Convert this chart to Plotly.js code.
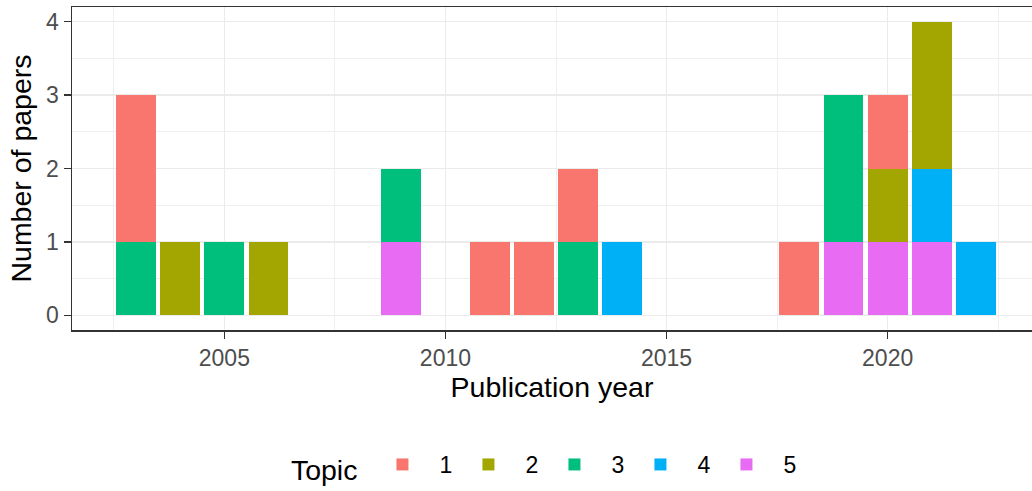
<!DOCTYPE html>
<html>
<head>
<meta charset="utf-8">
<script src="https://cdn.plot.ly/plotly-3.0.1.min.js"></script>
<style>html,body{margin:0;padding:0;background:#fff;}#chart{width:1032px;height:491px;}</style>
</head>
<body>
<div id="chart"></div>
<script>
// Data
var years  = [2003, 2004, 2005, 2006, 2009, 2011, 2012, 2013, 2014, 2018, 2019, 2020, 2021, 2022];
var topics = ["1", "2", "3", "4", "5"];
var topic1 = [2, 0, 0, 0, 0, 1, 1, 1, 0, 1, 0, 1, 0, 0];
var topic2 = [0, 1, 0, 1, 0, 0, 0, 0, 0, 0, 0, 1, 2, 0];
var topic3 = [1, 0, 1, 0, 1, 0, 0, 1, 0, 0, 2, 0, 0, 0];
var topic4 = [0, 0, 0, 0, 0, 0, 0, 0, 1, 0, 0, 0, 1, 1];
var topic5 = [0, 0, 0, 0, 1, 0, 0, 0, 0, 0, 1, 1, 1, 0];
var xTickVals = [2005, 2010, 2015, 2020];
var yTickVals = [0, 1, 2, 3, 4];

var colors = ["#F8766D", "#A3A500", "#00BF7D", "#00B0F6", "#E76BF3"];
var counts = [topic1, topic2, topic3, topic4, topic5];

var traces = [];
// stack order: topic 5 at the bottom, topic 1 on top
for (var i = topics.length - 1; i >= 0; i--) {
  var xs = [], ys = [];
  for (var j = 0; j < years.length; j++) {
    if (counts[i][j] > 0) { xs.push(years[j]); ys.push(counts[i][j]); }
  }
  traces.push({
    type: "bar",
    name: topics[i],
    x: xs,
    y: ys,
    marker: {color: colors[i], line: {width: 0}},
    hoverinfo: "x+y+name"
  });
}

var fontFam = "Liberation Sans, Arial, sans-serif";
var layout = {
  width: 1032,
  height: 491,
  margin: {l: 72, r: 0, t: 7, b: 160, pad: 0},
  paper_bgcolor: "#ffffff",
  plot_bgcolor: "#ffffff",
  barmode: "stack",
  bargap: 0.1,
  font: {family: fontFam, color: "#000000"},
  xaxis: {
    range: [2001.555, 2023.264],
    tickvals: xTickVals,
    ticktext: xTickVals.map(String),
    ticks: "outside",
    ticklen: 7,
    tickwidth: 1.3,
    tickcolor: "#333333",
    tickfont: {size: 23, color: "#4D4D4D"},
    showgrid: true,
    gridcolor: "#EBEBEB",
    gridwidth: 1.4,
    minor: {tick0: 2002.5, dtick: 5, showgrid: true, gridcolor: "#EBEBEB", gridwidth: 0.8, ticks: ""},
    showline: true,
    mirror: true,
    linecolor: "#333333",
    linewidth: 1.5,
    zeroline: false,
    title: {text: "Publication year", font: {size: 28.5, color: "#000000"}, standoff: 2}
  },
  yaxis: {
    range: [-0.2, 4.2],
    tickvals: yTickVals,
    ticktext: yTickVals.map(String),
    ticks: "outside",
    ticklen: 7,
    tickwidth: 1.3,
    tickcolor: "#333333",
    tickfont: {size: 23, color: "#4D4D4D"},
    showgrid: true,
    gridcolor: "#EBEBEB",
    gridwidth: 1.4,
    minor: {tick0: 0.5, dtick: 1, showgrid: true, gridcolor: "#EBEBEB", gridwidth: 0.8, ticks: ""},
    showline: true,
    mirror: false,
    linecolor: "#333333",
    linewidth: 1.5,
    zeroline: false,
    title: {text: "Number of papers", font: {size: 28.5, color: "#000000"}, standoff: 6}
  },
  legend: {
    orientation: "h",
    traceorder: "reversed",
    x: 0.49,
    xanchor: "center",
    y: -0.423,
    yanchor: "middle",
    font: {size: 23, color: "#000000"},
    title: {text: "Topic", side: "left", font: {size: 28.5, color: "#000000"}},
    itemwidth: 64,
    entrywidth: 7,
    itemsizing: "constant",
    bgcolor: "rgba(0,0,0,0)"
  },
  showlegend: true
};

Plotly.newPlot("chart", traces, layout, {displayModeBar: false, staticPlot: true});
</script>
</body>
</html>
